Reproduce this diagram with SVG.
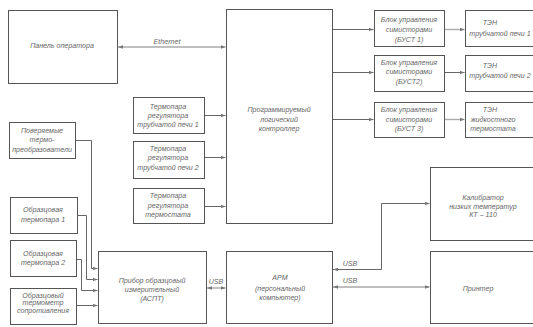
<svg xmlns="http://www.w3.org/2000/svg" width="533" height="327" viewBox="0 0 533 327">
<defs>
<style>
.box{fill:#fff;stroke:#555;stroke-width:1}
.t{font-family:"Liberation Sans","DejaVu Sans",sans-serif;font-style:italic;font-size:7.1px;fill:#666;text-anchor:middle}
.l{fill:none;stroke:#666;stroke-width:1}
.lt{fill:none;stroke:#aaa;stroke-width:1.4}
</style>
<marker id="a" viewBox="0 0 6 6" refX="6" refY="3" markerWidth="5" markerHeight="5" orient="auto-start-reverse" markerUnits="userSpaceOnUse">
<path d="M0,0.8 L6,3 L0,5.2 Z" fill="#777"/>
</marker>
</defs>
<rect width="533" height="327" fill="#fff"/>

<g id="connectors">
<line class="lt" x1="118" y1="47" x2="225.5" y2="47" marker-start="url(#a)" marker-end="url(#a)"/>
<text class="t" x="167" y="44">Ethernet</text>
<line class="l" x1="332.5" y1="29.5" x2="373.5" y2="29.5" marker-end="url(#a)"/>
<line class="lt" x1="444.5" y1="29.5" x2="464.5" y2="29.5" marker-end="url(#a)"/>
<line class="l" x1="332.5" y1="72.5" x2="373.5" y2="72.5" marker-end="url(#a)"/>
<line class="l" x1="444.5" y1="72.5" x2="464.5" y2="72.5" marker-end="url(#a)"/>
<line class="l" x1="332.5" y1="119.5" x2="373.5" y2="119.5" marker-end="url(#a)"/>
<line class="lt" x1="444.5" y1="119.5" x2="464.5" y2="119.5" marker-end="url(#a)"/>
<line class="l" x1="204.5" y1="115.5" x2="225.5" y2="115.5" marker-end="url(#a)"/>
<line class="l" x1="204.5" y1="157.5" x2="225.5" y2="157.5" marker-end="url(#a)"/>
<line class="l" x1="204.5" y1="206.5" x2="225.5" y2="206.5" marker-end="url(#a)"/>
<polyline class="l" points="75.5,140.5 91.5,140.5 91.5,268.5 97.5,268.5" marker-end="url(#a)"/>
<polyline class="l" points="77.5,215.5 86.5,215.5 86.5,279.5 97.5,279.5" marker-end="url(#a)"/>
<polyline class="l" points="76.5,259.5 81.5,259.5 81.5,290.5 97.5,290.5" marker-end="url(#a)"/>
<line class="l" x1="76.5" y1="305.5" x2="97.5" y2="305.5" marker-end="url(#a)"/>
<line class="lt" x1="207" y1="288" x2="225.5" y2="288" marker-start="url(#a)" marker-end="url(#a)"/>
<text class="t" x="216" y="284">USB</text>
<polyline class="l" points="333,269.5 381.5,269.5 381.5,203.5 429.5,203.5" marker-start="url(#a)" marker-end="url(#a)"/>
<text class="t" x="350" y="266">USB</text>
<line class="lt" x1="333" y1="287" x2="429.5" y2="287" marker-start="url(#a)" marker-end="url(#a)"/>
<text class="t" x="350" y="283">USB</text>
</g>

<g id="panel">
<rect class="box" x="8.5" y="10.5" width="109" height="73"/>
<text class="t" x="62" y="48">Панель оператора</text>
</g>

<g id="plc">
<rect class="box" x="226.5" y="9.5" width="106" height="214"/>
<text class="t" x="279" y="112">Программируемый</text>
<text class="t" x="279" y="121.5">логический</text>
<text class="t" x="279" y="131">контроллер</text>
</g>

<g id="bust1">
<rect class="box" x="374.5" y="10.5" width="70" height="36"/>
<text class="t" x="409" y="21.5">Блок управления</text>
<text class="t" x="409" y="31.5">симисторами</text>
<text class="t" x="409" y="41.5">(БУСТ 1)</text>
</g>
<g id="bust2">
<rect class="box" x="374.5" y="55.5" width="70" height="36"/>
<text class="t" x="409" y="64.5">Блок управления</text>
<text class="t" x="409" y="74">симисторами</text>
<text class="t" x="409" y="83.5">(БУСТ2)</text>
</g>
<g id="bust3">
<rect class="box" x="374.5" y="102.5" width="70" height="35"/>
<text class="t" x="409" y="111.5">Блок управления</text>
<text class="t" x="409" y="121.5">симисторами</text>
<text class="t" x="409" y="131">(БУСТ 3)</text>
</g>

<g id="ten1">
<rect class="box" x="465.5" y="10.5" width="80" height="36"/>
<text class="t" x="490" y="24.5">ТЭН</text>
<text class="t" x="500" y="35.5">трубчатой печи 1</text>
</g>
<g id="ten2">
<rect class="box" x="465.5" y="55.5" width="80" height="36"/>
<text class="t" x="490" y="67.5">ТЭН</text>
<text class="t" x="500" y="78">трубчатой печи 2</text>
</g>
<g id="ten3">
<rect class="box" x="465.5" y="102.5" width="80" height="35"/>
<text class="t" x="490" y="111.5">ТЭН</text>
<text class="t" x="493" y="121.5">жидкостного</text>
<text class="t" x="493" y="131">термостата</text>
</g>

<g id="tc1">
<rect class="box" x="133.5" y="97.5" width="71" height="36"/>
<text class="t" x="168" y="108.5">Термопара</text>
<text class="t" x="168" y="118">регулятора</text>
<text class="t" x="168" y="127">трубчатой печи 1</text>
</g>
<g id="tc2">
<rect class="box" x="133.5" y="141.5" width="71" height="37"/>
<text class="t" x="168" y="150.5">Термопара</text>
<text class="t" x="168" y="160">регулятора</text>
<text class="t" x="168" y="169.5">трубчатой печи 2</text>
</g>
<g id="tc3">
<rect class="box" x="133.5" y="188.5" width="71" height="35"/>
<text class="t" x="168" y="198">Термопара</text>
<text class="t" x="168" y="207.5">регулятора</text>
<text class="t" x="168" y="216.5">термостата</text>
</g>

<g id="tested">
<rect class="box" x="9.5" y="122.5" width="66" height="36"/>
<text class="t" x="42" y="132.5">Поверяемые</text>
<text class="t" x="42" y="142">термо-</text>
<text class="t" x="42" y="151.5">преобразователи</text>
</g>
<g id="ref1">
<rect class="box" x="10.5" y="197.5" width="67" height="36"/>
<text class="t" x="43" y="211.5">Образцовая</text>
<text class="t" x="43" y="221.5">термопара 1</text>
</g>
<g id="ref2">
<rect class="box" x="10.5" y="240.5" width="66" height="36"/>
<text class="t" x="43" y="255.5">Образцовая</text>
<text class="t" x="43" y="264.5">термопара 2</text>
</g>
<g id="ref3">
<rect class="box" x="10.5" y="288.5" width="66" height="36"/>
<text class="t" x="43" y="297.5">Образцовый</text>
<text class="t" x="43" y="305">термометр</text>
<text class="t" x="43" y="313">сопротивления</text>
</g>

<g id="pribor">
<rect class="box" x="98.5" y="251.5" width="108" height="72"/>
<text class="t" x="152" y="282.5">Прибор образцовый</text>
<text class="t" x="152" y="291.5">измерительный</text>
<text class="t" x="152" y="300.5">(АСПТ)</text>
</g>
<g id="arm">
<rect class="box" x="226.5" y="251.5" width="106" height="72"/>
<text class="t" x="280" y="279.5">АРМ</text>
<text class="t" x="280" y="290.5">(персональный</text>
<text class="t" x="280" y="299.5">компьютер)</text>
</g>
<g id="calibrator">
<rect class="box" x="430.5" y="167.5" width="115" height="73"/>
<text class="t" x="483" y="199.5">Калибратор</text>
<text class="t" x="483" y="208.5">низких температур</text>
<text class="t" x="483" y="217">КТ – 110</text>
</g>
<g id="printer">
<rect class="box" x="430.5" y="251.5" width="115" height="72"/>
<text class="t" x="478" y="290.5">Принтер</text>
</g>
</svg>
